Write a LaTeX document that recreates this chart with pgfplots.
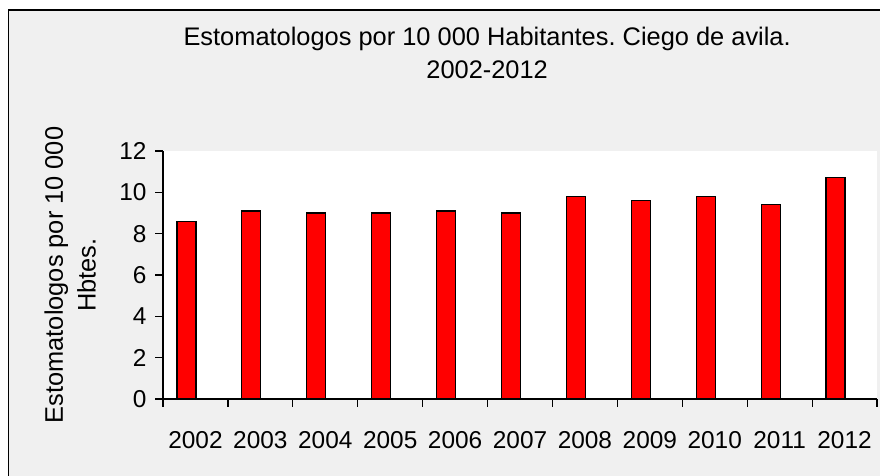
\documentclass[border=0pt]{standalone}
\usepackage{pgfplots}
\pgfplotsset{compat=1.18}
\usepackage{fontspec}
\setmainfont{Liberation Sans}
\frenchspacing
\definecolor{bggrey}{RGB}{240,240,240}
\definecolor{barred}{RGB}{255,0,0}
\newcommand{\chfont}{\fontsize{24.5}{33}\selectfont}
\newcommand{\lbfont}{\fontsize{25.5}{33}\selectfont}
\begin{document}
\begin{tikzpicture}[x=1bp,y=1bp]
\useasboundingbox (0,0) rectangle (880,476);
\clip (0,0) rectangle (880,476);
\fill[white] (0,0) rectangle (880,476);
\filldraw[fill=bggrey, draw=black, line width=1.5bp] (8.5,-20) rectangle (900,466);
\begin{axis}[
  at={(163bp,77bp)}, anchor=south west,
  width=714bp, height=248bp, scale only axis,
  xmin=-0.5, xmax=10.5, ymin=0, ymax=12,
  axis x line*=bottom, axis y line*=left,
  axis line style={line width=1.5bp, black},
  axis background/.style={fill=white},
  ytick={0,2,...,12},
  yticklabel style={xshift=-5bp},
  xtick={-0.5,0.5,...,10.5},
  xticklabels={},
  extra x ticks={0,1,...,10},
  extra x tick labels={2002,2003,2004,2005,2006,2007,2008,2009,2010,2011,2012},
  extra x tick style={major tick length=0pt, xticklabel style={yshift=-29bp}},
  tick align=outside,
  major tick length=8bp,
  tick style={line width=1.2bp, black},
  /pgf/number format/assume math mode=true,
  tick label style={font=\chfont},
  ylabel={Estomatologos por 10 000\\Hbtes.},
  ylabel style={font=\lbfont, align=center, at={(axis description cs:-0.130,0.5)}, anchor=center},
  title={Estomatologos por 10 000 Habitantes. Ciego de avila.\\2002-2012},
  title style={font=\lbfont, align=center, at={(axis description cs:0.454,1)}, anchor=north, yshift=121bp},
]
\addplot[ybar, bar width=19bp, bar shift=-9bp, fill=barred, draw=black, line width=1.2bp]
  coordinates {(0,8.6) (1,9.1) (2,9.0) (3,9.0) (4,9.1) (5,9.0) (6,9.8) (7,9.6) (8,9.8) (9,9.4) (10,10.7)};
\end{axis}
\end{tikzpicture}
\end{document}
